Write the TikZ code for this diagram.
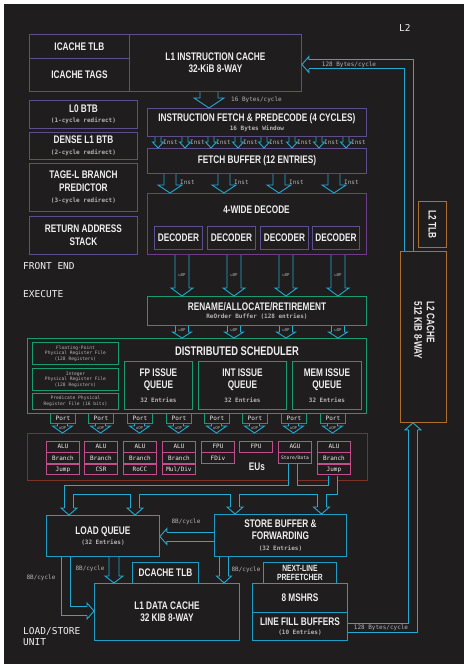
\documentclass[tikz,border=0pt]{standalone}
\usepackage{fontspec}
\usetikzlibrary{positioning}
\usetikzlibrary{calc}

\newfontfamily\boxfamily[FakeStretch=0.75]{Liberation Sans}
\newfontfamily\monofamily{DejaVu Sans Mono}
\newcommand{\titlefont}{\boxfamily\bfseries\fontsize{11}{12.5}\selectfont}
\newcommand{\bigtitlefont}{\boxfamily\bfseries\fontsize{12.5}{14}\selectfont}
\newcommand{\smalltitlefont}{\boxfamily\bfseries\fontsize{9}{9.5}\selectfont}
\newcommand{\monosmall}{\monofamily\fontsize{6}{7}\selectfont}
\newcommand{\monotiny}{\monofamily\fontsize{4.6}{5.5}\selectfont}
\newcommand{\monomicro}{\monofamily\fontsize{4}{4.5}\selectfont}
\newcommand{\areafont}{\monofamily\fontsize{9.5}{11.5}\selectfont}
\newcommand{\subtext}[1]{{\color{dim}\monosmall #1}}

\definecolor{bg}{HTML}{201D1E}
\definecolor{txt}{HTML}{EEEEEE}
\definecolor{dim}{HTML}{B4B4B4}
\definecolor{frontc}{HTML}{5E4E8E}
\definecolor{decodec}{HTML}{6F3C88}
\definecolor{schedc}{HTML}{189C72}
\definecolor{euc}{HTML}{7C3326}
\definecolor{pinkc}{HTML}{C24F8C}
\definecolor{flowc}{HTML}{22AAD2}
\definecolor{lsuc}{HTML}{1E9EC4}
\definecolor{l2c}{HTML}{B06E2C}

% hollow arrow going down from one node to the next
\newcommand{\blockdown}[6]{%
  \filldraw[blockarrow] ($(#1,0 |- #2.south)+(-#4,0)$) -- ($(#1,0 |- #3.north)+(-#4,-#6)$)
    -- ($(#1,0 |- #3.north)+(-#5,-#6)$) -- (#1,0 |- #3.north)
    -- ($(#1,0 |- #3.north)+(#5,-#6)$) -- ($(#1,0 |- #3.north)+(#4,-#6)$)
    -- ($(#1,0 |- #2.south)+(#4,0)$);}

% the bus tubes, drawn twice (outline, then inside)
\newcommand{\tubepaths}{%
  ($(409,0 |- l2cache.north)+(0,-0.5)$) -- (409,64.5) -- ($(l1i.east |- 0,64.5)+(7,0)$)
  ($(lfb.east |- 0,627.5)+(0.5,0)$) -- (413,627.5) -- ($(413,0 |- l2cache.south)+(0,7)$)
  ($(sbuf.west |- 0,536.5)+(-0.5,0)$) -- ($(lq.east |- 0,536.5)+(7,0)$)
  ($(66,0 |- lq.south)+(0,0.5)$) -- (66,611) -- ($(l1d.west |- 0,611)+(-7,0)$)
  ($(332.5,0 |- e8c.south)+(0,0.5)$) -- (332.5,489.5) -- (69,489.5) -- ($(69,0 |- lq.north)+(0,-7)$)
  ($(292.5,0 |- e7b.south)+(0,0.5)$) -- (292.5,489.5)
  (135,489.5) -- ($(135,0 |- lq.north)+(0,-7)$)
  (235,489.5) -- ($(235,0 |- sbuf.north)+(0,-7)$)
  (321.5,489.5) -- ($(321.5,0 |- sbuf.north)+(0,-7)$)}

\tikzset{tubehead/.pic={\filldraw[blockarrow] (-4.5,-7) -- (-8,-7) -- (0,0) -- (8,-7) -- (4.5,-7);}}

\begin{document}
\begin{tikzpicture}[x=1pt, y=-1pt,
    box/.style={draw=#1, line width=0.9pt, fill=bg, text=txt, font=\titlefont, align=center, inner sep=1pt, anchor=north west},
    title/.style={text=txt, font=\titlefont, inner sep=0pt, align=center},
    port/.style={draw=schedc, line width=0.9pt, fill=bg, text=txt, font=\monosmall, minimum width=25, minimum height=10, inner sep=0pt, anchor=north west},
    eucell/.style={draw=pinkc, line width=0.9pt, fill=bg, text=txt, font=\monosmall, minimum width=33, minimum height=10.5, inner sep=0pt},
    lbl/.style={text=dim, font=\monosmall, inner sep=0pt},
    uop/.style={text=dim, font=\monomicro, inner sep=0pt},
    area/.style={text=txt!85, font=\areafont, anchor=west, inner sep=0pt, align=left},
    blockarrow/.style={draw=flowc, fill=bg, line width=0.9pt, line join=miter},
    tubeout/.style={draw=flowc, line width=10pt, line join=miter},
    tubein/.style={draw=bg, line width=8pt, line join=miter}]

    \fill[white] (0,0) rectangle (468,669);
    \fill[bg] (4,4) rectangle (464,664);
    \useasboundingbox (0,0) rectangle (468,669);

    % front end
    \node[box=frontc, minimum width=100, minimum height=24] (itlb) at (29,34) {ICACHE TLB};
    \node[box=frontc, minimum width=100, minimum height=33] (itags) at (29,58) {ICACHE TAGS};
    \node[box=frontc, minimum width=172, minimum height=57] (l1i) at (129,34) {L1 INSTRUCTION CACHE\\32-KiB 8-WAY};
    \node[box=frontc, minimum width=108, minimum height=28] (l0btb) at (29,100) {L0 BTB\\[-2pt]\subtext{(1-cycle redirect)}};
    \node[box=frontc, minimum width=108, minimum height=27] (l1btb) at (29,132) {DENSE L1 BTB\\[-2pt]\subtext{(2-cycle redirect)}};
    \node[box=frontc, minimum width=108, minimum height=48] (tage) at (29,163) {TAGE-L BRANCH\\PREDICTOR\\[-1pt]\subtext{(3-cycle redirect)}};
    \node[box=frontc, minimum width=108, minimum height=38] (ras) at (29,216) {RETURN ADDRESS\\STACK};
    \node[box=frontc, minimum width=219, minimum height=28] (fetch) at (147,108) {INSTRUCTION FETCH \& PREDECODE (4 CYCLES)\\[-4pt]\subtext{16 Bytes Window}};
    \node[box=frontc, minimum width=219, minimum height=25] (fbuf) at (147,148) {FETCH BUFFER (12 ENTRIES)};
    \node[box=decodec, minimum width=219, minimum height=61] (decode) at (147,193) {};
    \node[title] (decodet) at (256.5,210) {4-WIDE DECODE};
    \node[box=frontc, minimum width=48, minimum height=23] (dec1) at (154,226) {DECODER};
    \node[box=frontc, minimum width=48, minimum height=23] (dec2) at (207,226) {DECODER};
    \node[box=frontc, minimum width=48, minimum height=23] (dec3) at (260,226) {DECODER};
    \node[box=frontc, minimum width=47, minimum height=23] (dec4) at (312,226) {DECODER};

    % execute
    \node[box=schedc, minimum width=219, minimum height=29] (rename) at (147,296) {RENAME/ALLOCATE/RETIREMENT\\[-4pt]\subtext{ReOrder Buffer (128 entries)}};
    \node[box=schedc, minimum width=339, minimum height=75] (sched) at (27,338) {};
    \node[title, font=\bigtitlefont] (schedt) at (237,351) {DISTRIBUTED SCHEDULER};
    \node[box=schedc, minimum width=86, minimum height=22, font=\monotiny, text=dim] (fprf) at (32,342) {Floating-Point\\Physical Register File\\(128 Registers)};
    \node[box=schedc, minimum width=86, minimum height=22, font=\monotiny, text=dim] (iprf) at (32,368) {Integer\\Physical Register File\\(128 Registers)};
    \node[box=schedc, minimum width=86, minimum height=16, font=\monotiny, text=dim] (pprf) at (32,393) {Predicate Physical\\Register File (16 bits)};
    \node[box=schedc, minimum width=68, minimum height=48] (fpq) at (124,361) {FP ISSUE\\QUEUE\\[1pt]\subtext{32 Entries}};
    \node[box=schedc, minimum width=88, minimum height=48] (intq) at (198,361) {INT ISSUE\\QUEUE\\[1pt]\subtext{32 Entries}};
    \node[box=schedc, minimum width=69, minimum height=48] (memq) at (292,361) {MEM ISSUE\\QUEUE\\[1pt]\subtext{32 Entries}};

    \node[port] (port1) at (50,413) {Port};
    \node[port] (port2) at (88,413) {Port};
    \node[port] (port3) at (127,413) {Port};
    \node[port] (port4) at (166,413) {Port};
    \node[port] (port5) at (204,413) {Port};
    \node[port] (port6) at (242,413) {Port};
    \node[port] (port7) at (281,413) {Port};
    \node[port] (port8) at (320,413) {Port};

    \node[draw=euc, line width=0.9pt, minimum width=340, minimum height=47, anchor=north west] (eubox) at (27,433) {};
    \node[title] (eut) at (257,467) {EUs};

    \node[eucell, anchor=north west] (e1a) at (46,441) {ALU};
    \node[eucell, below=0pt of e1a] (e1b) {Branch};
    \node[eucell, below=0pt of e1b] (e1c) {Jump};
    \node[eucell, anchor=north west] (e2a) at (84,441) {ALU};
    \node[eucell, below=0pt of e2a] (e2b) {Branch};
    \node[eucell, below=0pt of e2b] (e2c) {CSR};
    \node[eucell, anchor=north west] (e3a) at (123,441) {ALU};
    \node[eucell, below=0pt of e3a] (e3b) {Branch};
    \node[eucell, below=0pt of e3b] (e3c) {RoCC};
    \node[eucell, anchor=north west] (e4a) at (162,441) {ALU};
    \node[eucell, below=0pt of e4a] (e4b) {Branch};
    \node[eucell, below=0pt of e4b] (e4c) {Mul/Div};
    \node[eucell, anchor=north west] (e5a) at (201,441) {FPU};
    \node[eucell, below=0pt of e5a] (e5b) {FDiv};
    \node[eucell, anchor=north west] (e6a) at (239,441) {FPU};
    \node[eucell, anchor=north west] (e7a) at (278,441) {AGU};
    \node[eucell, below=0pt of e7a, font=\monotiny] (e7b) {Store/Data};
    \node[eucell, anchor=north west] (e8a) at (317,441) {ALU};
    \node[eucell, below=0pt of e8a] (e8b) {Branch};
    \node[eucell, below=0pt of e8b] (e8c) {Jump};

    % load/store unit
    \node[box=lsuc, minimum width=113, minimum height=41] (lq) at (46,515) {LOAD QUEUE\\[-2pt]\subtext{(32 Entries)}};
    \node[box=lsuc, minimum width=132, minimum height=42] (sbuf) at (214,514) {STORE BUFFER \&\\FORWARDING\\[-2pt]\subtext{(32 Entries)}};
    \node[box=lsuc, minimum width=66, minimum height=21] (dtlb) at (132,562) {DCACHE TLB};
    \node[box=lsuc, minimum width=145, minimum height=57] (l1d) at (94,583) {L1 DATA CACHE\\32 KIB 8-WAY};
    \node[box=lsuc, minimum width=73, minimum height=21, font=\smalltitlefont] (nlp) at (263,562) {NEXT-LINE\\PREFETCHER};
    \node[box=lsuc, minimum width=95, minimum height=29] (mshr) at (252,583) {8 MSHRS};
    \node[box=lsuc, minimum width=95, minimum height=28] (lfb) at (252,612) {LINE FILL BUFFERS\\[-3pt]\subtext{(10 Entries)}};

    % L2
    \node[box=l2c, minimum width=28, minimum height=46] (l2tlb) at (418,201) {};
    \node[title, rotate=-90] (l2tlbt) at (l2tlb.center) {L2 TLB};
    \node[box=l2c, minimum width=46, minimum height=171] (l2cache) at (400,251) {};
    \node[title, rotate=-90, align=left] (l2cachet) at (424.5,330.5) {L2 CACHE\\512 KIB 8-WAY};

    \node[area] (frontend) at (23,266) {FRONT END};
    \node[area] (execute) at (23,294) {EXECUTE};
    \node[area, anchor=north west] (lsunit) at (23,627) {LOAD/STORE\\UNIT};
    \node[area] (l2lbl) at (399,28) {L2};

    % buses
    \draw[tubeout] \tubepaths;
    \draw[tubein] \tubepaths;
    \pic[rotate=-90] at (l1i.east |- 0,64.5) {tubehead};
    \pic[rotate=180] at (413,0 |- l2cache.south) {tubehead};
    \pic[rotate=-90] at (lq.east |- 0,536.5) {tubehead};
    \pic[rotate=90] at (l1d.west |- 0,611) {tubehead};
    \pic at (69,0 |- lq.north) {tubehead};
    \pic at (135,0 |- lq.north) {tubehead};
    \pic at (235,0 |- sbuf.north) {tubehead};
    \pic at (321.5,0 |- sbuf.north) {tubehead};

    % pipeline arrows
    \blockdown{209}{l1i}{fetch}{9}{15}{10}
    \blockdown{158}{fetch}{fbuf}{3}{5.5}{6}
    \blockdown{185}{fetch}{fbuf}{3}{5.5}{6}
    \blockdown{211}{fetch}{fbuf}{3}{5.5}{6}
    \blockdown{238}{fetch}{fbuf}{3}{5.5}{6}
    \blockdown{264}{fetch}{fbuf}{3}{5.5}{6}
    \blockdown{292}{fetch}{fbuf}{3}{5.5}{6}
    \blockdown{319}{fetch}{fbuf}{3}{5.5}{6}
    \blockdown{346}{fetch}{fbuf}{3}{5.5}{6}
    \blockdown{170}{fbuf}{decode}{6}{12}{8}
    \blockdown{224}{fbuf}{decode}{6}{12}{8}
    \blockdown{279}{fbuf}{decode}{6}{12}{8}
    \blockdown{334}{fbuf}{decode}{6}{12}{8}
    \blockdown{182}{decode}{rename}{7}{11}{8}
    \blockdown{234}{decode}{rename}{7}{11}{8}
    \blockdown{286}{decode}{rename}{7}{11}{8}
    \blockdown{338}{decode}{rename}{7}{11}{8}
    \blockdown{182}{rename}{sched}{6.5}{9.5}{6}
    \blockdown{234}{rename}{sched}{6.5}{9.5}{6}
    \blockdown{286}{rename}{sched}{6.5}{9.5}{6}
    \blockdown{338}{rename}{sched}{6.5}{9.5}{6}
    \blockdown{62.5}{port1}{eubox}{5}{10}{7}
    \blockdown{100.5}{port2}{eubox}{5}{10}{7}
    \blockdown{139.5}{port3}{eubox}{5}{10}{7}
    \blockdown{178.5}{port4}{eubox}{5}{10}{7}
    \blockdown{216.5}{port5}{eubox}{5}{10}{7}
    \blockdown{254.5}{port6}{eubox}{5}{10}{7}
    \blockdown{293.5}{port7}{eubox}{5}{10}{7}
    \blockdown{332.5}{port8}{eubox}{5}{10}{7}
    \blockdown{114}{lq}{l1d}{5}{9}{7}
    \blockdown{224}{sbuf}{l1d}{4.5}{7.5}{7}

    % labels on the connectors
    \node[lbl, anchor=west] (bpc) at (231,100) {16 Bytes/cycle};
    \node[lbl, anchor=west] (inst1) at (163,142) {Inst};
    \node[lbl, anchor=west] (inst2) at (190,142) {Inst};
    \node[lbl, anchor=west] (inst3) at (216,142) {Inst};
    \node[lbl, anchor=west] (inst4) at (243,142) {Inst};
    \node[lbl, anchor=west] (inst5) at (269,142) {Inst};
    \node[lbl, anchor=west] (inst6) at (297,142) {Inst};
    \node[lbl, anchor=west] (inst7) at (324,142) {Inst};
    \node[lbl, anchor=west] (inst8) at (351,142) {Inst};
    \node[lbl, anchor=west] (insta) at (180,182) {Inst};
    \node[lbl, anchor=west] (instb) at (234,182) {Inst};
    \node[lbl, anchor=west] (instc) at (289,182) {Inst};
    \node[lbl, anchor=west] (instd) at (344,182) {Inst};
    \node[uop] (uopa) at (182,275) {uOP};
    \node[uop] (uopb) at (234,275) {uOP};
    \node[uop] (uopc) at (286,275) {uOP};
    \node[uop] (uopd) at (338,275) {uOP};
    \node[uop] (uope) at (182,330) {uOP};
    \node[uop] (uopf) at (234,330) {uOP};
    \node[uop] (uopg) at (286,330) {uOP};
    \node[uop] (uoph) at (338,330) {uOP};
    \node[uop] (uop1) at (62.5,428) {uOP};
    \node[uop] (uop2) at (100.5,428) {uOP};
    \node[uop] (uop3) at (139.5,428) {uOP};
    \node[uop] (uop4) at (178.5,428) {uOP};
    \node[uop] (uop5) at (216.5,428) {uOP};
    \node[uop] (uop6) at (254.5,428) {uOP};
    \node[uop] (uop7) at (293.5,428) {uOP};
    \node[uop] (uop8) at (332.5,428) {uOP};
    \node[lbl] (bwl2i) at (349,64.5) {128 Bytes/cycle};
    \node[lbl] (bwl2d) at (381,628) {128 Bytes/cycle};
    \node[lbl] (bwsq) at (186,522) {8B/cycle};
    \node[lbl] (bwlqa) at (41,578) {8B/cycle};
    \node[lbl] (bwlqb) at (90,569) {8B/cycle};
    \node[lbl] (bwsd) at (246,570) {8B/cycle};
\end{tikzpicture}
\end{document}
